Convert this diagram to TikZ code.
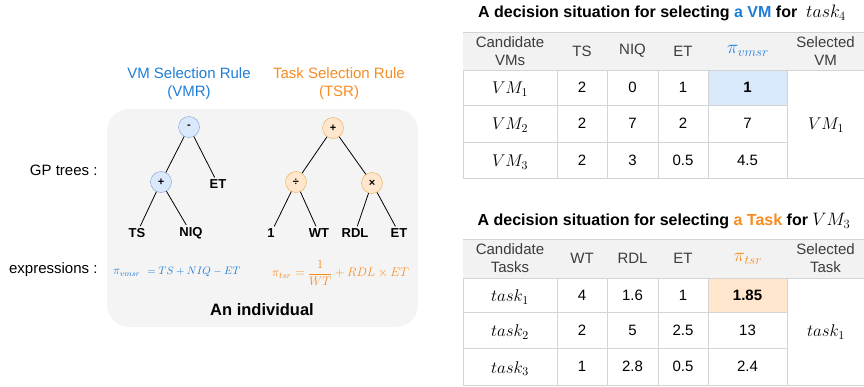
\RequirePackage{fix-cm}
\documentclass[tikz,border=0pt]{standalone}
\usepackage{fontspec}
\setsansfont{Liberation Sans}
\definecolor{vmblue}{RGB}{30,125,215}
\definecolor{taskorange}{RGB}{247,140,35}
\definecolor{bluefill}{HTML}{DAE8FC}
\definecolor{blueline}{RGB}{125,160,215}
\definecolor{orangefill}{HTML}{FFE6CC}
\definecolor{orangeline}{RGB}{225,175,70}
\definecolor{panel}{HTML}{F4F4F4}
\definecolor{gridline}{HTML}{D4D4D4}
\definecolor{headfill}{HTML}{F2F2F2}
\definecolor{headtext}{HTML}{3C3C3C}

% math set at a given size inside the sans-serif cells
\newcommand{\mathat}[2]{{\fontsize{#1}{#1}\selectfont$#2$}}

\tikzset{
  opnode/.style={circle, minimum size=21pt, inner sep=0pt,
    font=\sffamily\bfseries\fontsize{11}{13}\selectfont},
  opblue/.style={opnode, draw=blueline, fill=bluefill},
  oporange/.style={opnode, draw=orangeline, fill=orangefill},
  leaf/.style={font=\sffamily\bfseries\fontsize{13}{15}\selectfont, inner sep=2pt},
  branch/.style={draw=black, line width=0.8pt},
  label15/.style={font=\sffamily\fontsize{15}{18}\selectfont, align=center},
  headcell/.style={font=\sffamily\fontsize{15}{18}\selectfont, text=headtext, align=center},
  cell/.style={font=\sffamily\fontsize{15}{18}\selectfont, align=center},
  tabtitle/.style={font=\sffamily\bfseries\fontsize{16}{19}\selectfont},
  grid/.style={draw=gridline, line width=0.8pt},
  formula/.style={inner sep=0pt, anchor=west},
}

\begin{document}
\begin{tikzpicture}[x=1pt, y=-1pt]
\useasboundingbox (0,0) rectangle (864,386);

% ---------------- left: one individual with its two GP trees ----------------
\fill[panel, rounded corners=22pt] (107,109) rectangle (418,327);

\node[label15, text=vmblue] (vmrtitle) at (189,84) {VM Selection Rule\\(VMR)};
\node[label15, text=taskorange] (tsrtitle) at (339,84) {Task Selection Rule\\(TSR)};

\node[label15, anchor=east] (gplabel) at (101,170) {GP trees :};
\node[label15, anchor=east] (exlabel) at (101,270) {expressions :};

% VM selection rule tree
\node[opblue] (vminus) at (189,127) {-};
\node[opblue] (vplus) at (161,182) {+};
\node[leaf] (vet) at (218,184) {ET};
\node[leaf] (vts) at (137,233) {TS};
\node[leaf] (vniq) at (191,233) {NIQ};
\draw[branch] (vminus) -- (vplus);
\draw[branch] (vminus) -- (vet);
\draw[branch] (vplus) -- (vts);
\draw[branch] (vplus) -- (vniq);

% task selection rule tree
\node[oporange] (tplus) at (333,128) {+};
\node[oporange] (tdiv) at (296,182) {÷};
\node[oporange] (ttimes) at (372,183) {×};
\node[leaf] (tone) at (271,233) {1};
\node[leaf] (twt) at (319,233) {WT};
\node[leaf] (trdl) at (355,233) {RDL};
\node[leaf] (tet) at (399,233) {ET};
\draw[branch] (tplus) -- (tdiv);
\draw[branch] (tplus) -- (ttimes);
\draw[branch] (tdiv) -- (tone);
\draw[branch] (tdiv) -- (twt);
\draw[branch] (ttimes) -- (trdl);
\draw[branch] (ttimes) -- (tet);

% expressions
\node[formula, text=vmblue] (vexpr) at (113,272)
  {\mathat{12}{\pi_{vmsr}}\mathat{10.8}{\hspace{7pt}= TS+NIQ-ET}};
\node[formula, text=taskorange] (texpr) at (272,273)
  {\mathat{12.4}{\pi_{tsr} = {\displaystyle\frac{1}{WT}} + RDL\times ET}};

\node[font=\sffamily\bfseries\fontsize{16.5}{20}\selectfont] (indiv) at (262,310) {An individual};

% ---------------- table 1: choosing a VM ----------------
\node[tabtitle] (title1) at (662,13)
  {A decision situation for selecting {\color{vmblue}a VM} for \ \mathat{18}{task_4}};

\fill[headfill] (463,32) rectangle (864,70);
\fill[bluefill] (708,70) rectangle (787,105);
\draw[grid] (463,32) -- (864,32);
\draw[grid] (463,70) -- (864,70);
\draw[grid] (463,105) -- (787,105);
\draw[grid] (463,142) -- (787,142);
\draw[grid] (463,178) -- (864,178);
\foreach \cx in {463,557,607,658,708,787}
  \draw[grid] (\cx,70) -- (\cx,178);

\node[headcell] (h1a) at (510,51) {Candidate\\VMs};
\node[headcell] (h1b) at (582,51) {TS};
\node[headcell] (h1c) at (632.5,51) {NIQ};
\node[headcell] (h1d) at (683,51) {ET};
\node[headcell, text=vmblue] (h1e) at (748,51) {\mathat{19}{\pi_{vmsr}}};
\node[headcell] (h1f) at (825.5,51) {Selected\\VM};

\node[cell] (r1a) at (510,89) {\mathat{17}{VM_1}};
\node[cell] (r1b) at (582,87.5) {2};
\node[cell] (r1c) at (632.5,87.5) {0};
\node[cell] (r1d) at (683,87.5) {1};
\node[cell, font=\sffamily\bfseries\fontsize{15}{18}\selectfont] (r1e) at (747.5,87.5) {1};

\node[cell] (r2a) at (510,125) {\mathat{17}{VM_2}};
\node[cell] (r2b) at (582,123.5) {2};
\node[cell] (r2c) at (632.5,123.5) {7};
\node[cell] (r2d) at (683,123.5) {2};
\node[cell] (r2e) at (747.5,123.5) {7};

\node[cell] (r3a) at (510,162) {\mathat{17}{VM_3}};
\node[cell] (r3b) at (582,160) {2};
\node[cell] (r3c) at (632.5,160) {3};
\node[cell] (r3d) at (683,160) {0.5};
\node[cell] (r3e) at (747.5,160) {4.5};

\node[cell] (sel1) at (826,125) {\mathat{17}{VM_1}};

% ---------------- table 2: choosing a task ----------------
\node[tabtitle] (title2) at (664,221)
  {A decision situation for selecting {\color{taskorange}a Task} for \mathat{18}{VM_3}};

\fill[headfill] (463,239) rectangle (864,278);
\fill[orangefill] (708,278) rectangle (787,312);
\draw[grid] (463,239) -- (864,239);
\draw[grid] (463,278) -- (864,278);
\draw[grid] (463,312) -- (787,312);
\draw[grid] (463,348) -- (787,348);
\draw[grid] (463,385) -- (864,385);
\foreach \cx in {463,557,607,658,708,787}
  \draw[grid] (\cx,278) -- (\cx,385);

\node[headcell] (h2a) at (510,258.5) {Candidate\\Tasks};
\node[headcell] (h2b) at (582,258.5) {WT};
\node[headcell] (h2c) at (632.5,258.5) {RDL};
\node[headcell] (h2d) at (683,258.5) {ET};
\node[headcell, text=taskorange] (h2e) at (748,258.5) {\mathat{19}{\pi_{tsr}}};
\node[headcell] (h2f) at (825.5,258.5) {Selected\\Task};

\node[cell] (s1a) at (510,297) {\mathat{17}{task_1}};
\node[cell] (s1b) at (582,295) {4};
\node[cell] (s1c) at (632.5,295) {1.6};
\node[cell] (s1d) at (683,295) {1};
\node[cell, font=\sffamily\bfseries\fontsize{15}{18}\selectfont] (s1e) at (747.5,295) {1.85};

\node[cell] (s2a) at (510,332) {\mathat{17}{task_2}};
\node[cell] (s2b) at (582,330) {2};
\node[cell] (s2c) at (632.5,330) {5};
\node[cell] (s2d) at (683,330) {2.5};
\node[cell] (s2e) at (747.5,330) {13};

\node[cell] (s3a) at (510,368.5) {\mathat{17}{task_3}};
\node[cell] (s3b) at (582,366.5) {1};
\node[cell] (s3c) at (632.5,366.5) {2.8};
\node[cell] (s3d) at (683,366.5) {0.5};
\node[cell] (s3e) at (747.5,366.5) {2.4};

\node[cell] (sel2) at (826,332) {\mathat{17}{task_1}};
\end{tikzpicture}
\end{document}
